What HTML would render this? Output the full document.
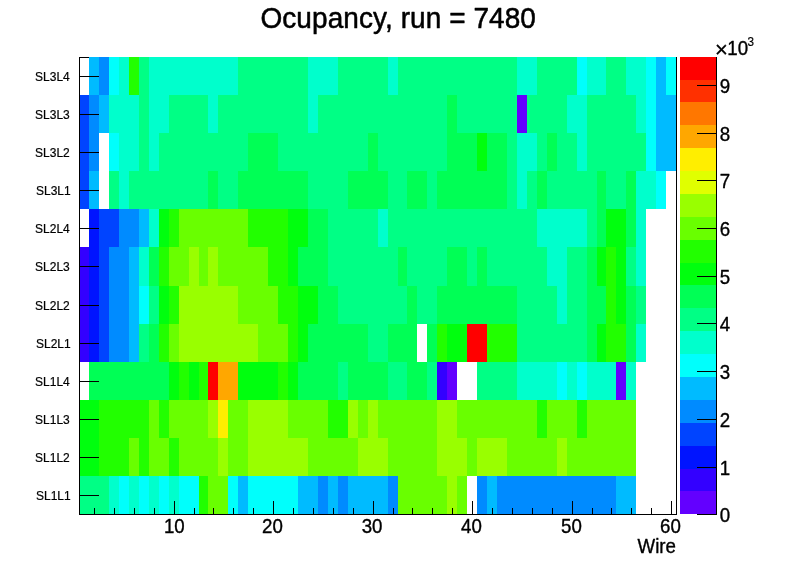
<!DOCTYPE html>
<html><head><meta charset="utf-8"><title>Ocupancy, run = 7480</title>
<style>html,body{margin:0;padding:0;background:#fff;overflow:hidden}</style></head>
<body>
<svg width="796" height="572" viewBox="0 0 796 572" style="display:block">
<rect x="0" y="0" width="796" height="572" fill="#fff"/>
<g shape-rendering="crispEdges">
<rect x="79.5" y="57.5" width="597" height="457" fill="none" stroke="#000" stroke-width="1"/>
<rect x="89" y="57" width="10" height="38" fill="#00bbff"/>
<rect x="99" y="57" width="10" height="38" fill="#008bff"/>
<rect x="109" y="57" width="10" height="38" fill="#00fffc"/>
<rect x="119" y="57" width="10" height="38" fill="#00ffcc"/>
<rect x="129" y="57" width="10" height="38" fill="#22ff00"/>
<rect x="139" y="57" width="10" height="38" fill="#00ff85"/>
<rect x="149" y="57" width="89" height="38" fill="#00ffcc"/>
<rect x="238" y="57" width="70" height="38" fill="#00ff85"/>
<rect x="308" y="57" width="30" height="38" fill="#00ffcc"/>
<rect x="338" y="57" width="50" height="38" fill="#00ff85"/>
<rect x="388" y="57" width="10" height="38" fill="#00ffcc"/>
<rect x="398" y="57" width="119" height="38" fill="#00ff85"/>
<rect x="517" y="57" width="20" height="38" fill="#00ffcc"/>
<rect x="537" y="57" width="40" height="38" fill="#00ff85"/>
<rect x="577" y="57" width="10" height="38" fill="#00fffc"/>
<rect x="587" y="57" width="19" height="38" fill="#00ffcc"/>
<rect x="606" y="57" width="20" height="38" fill="#00ff85"/>
<rect x="626" y="57" width="20" height="38" fill="#00ffcc"/>
<rect x="646" y="57" width="10" height="38" fill="#00fffc"/>
<rect x="656" y="57" width="10" height="38" fill="#00bbff"/>
<rect x="666" y="57" width="10" height="38" fill="#00fffc"/>
<rect x="79" y="95" width="10" height="38" fill="#0044ff"/>
<rect x="89" y="95" width="10" height="38" fill="#008bff"/>
<rect x="99" y="95" width="10" height="38" fill="#00bbff"/>
<rect x="109" y="95" width="30" height="38" fill="#00ffcc"/>
<rect x="139" y="95" width="10" height="38" fill="#00ff85"/>
<rect x="149" y="95" width="20" height="38" fill="#00ffcc"/>
<rect x="169" y="95" width="39" height="38" fill="#00ff85"/>
<rect x="208" y="95" width="10" height="38" fill="#00ffcc"/>
<rect x="218" y="95" width="90" height="38" fill="#00ff85"/>
<rect x="308" y="95" width="10" height="38" fill="#00ffcc"/>
<rect x="318" y="95" width="129" height="38" fill="#00ff85"/>
<rect x="447" y="95" width="10" height="38" fill="#00ff55"/>
<rect x="457" y="95" width="60" height="38" fill="#00ff85"/>
<rect x="517" y="95" width="10" height="38" fill="#6300ff"/>
<rect x="527" y="95" width="40" height="38" fill="#00ff85"/>
<rect x="567" y="95" width="20" height="38" fill="#00ffcc"/>
<rect x="587" y="95" width="49" height="38" fill="#00ff85"/>
<rect x="636" y="95" width="10" height="38" fill="#00ffcc"/>
<rect x="646" y="95" width="10" height="38" fill="#00fffc"/>
<rect x="656" y="95" width="20" height="38" fill="#00bbff"/>
<rect x="79" y="133" width="10" height="38" fill="#0044ff"/>
<rect x="89" y="133" width="10" height="38" fill="#008bff"/>
<rect x="109" y="133" width="10" height="38" fill="#00fffc"/>
<rect x="119" y="133" width="20" height="38" fill="#00ffcc"/>
<rect x="139" y="133" width="10" height="38" fill="#00ff85"/>
<rect x="149" y="133" width="10" height="38" fill="#00ffcc"/>
<rect x="159" y="133" width="89" height="38" fill="#00ff85"/>
<rect x="248" y="133" width="30" height="38" fill="#00ff55"/>
<rect x="278" y="133" width="90" height="38" fill="#00ff85"/>
<rect x="368" y="133" width="10" height="38" fill="#00ff55"/>
<rect x="378" y="133" width="69" height="38" fill="#00ff85"/>
<rect x="447" y="133" width="30" height="38" fill="#00ff55"/>
<rect x="477" y="133" width="10" height="38" fill="#00ff0e"/>
<rect x="487" y="133" width="20" height="38" fill="#00ff55"/>
<rect x="507" y="133" width="10" height="38" fill="#00ff85"/>
<rect x="517" y="133" width="20" height="38" fill="#00ffcc"/>
<rect x="537" y="133" width="10" height="38" fill="#00ff85"/>
<rect x="547" y="133" width="10" height="38" fill="#00ff55"/>
<rect x="557" y="133" width="20" height="38" fill="#00ff85"/>
<rect x="577" y="133" width="10" height="38" fill="#00ffcc"/>
<rect x="587" y="133" width="59" height="38" fill="#00ff85"/>
<rect x="646" y="133" width="10" height="38" fill="#00fffc"/>
<rect x="656" y="133" width="20" height="38" fill="#00bbff"/>
<rect x="79" y="171" width="10" height="38" fill="#0044ff"/>
<rect x="89" y="171" width="10" height="38" fill="#00bbff"/>
<rect x="109" y="171" width="10" height="38" fill="#00ff85"/>
<rect x="119" y="171" width="10" height="38" fill="#00ffcc"/>
<rect x="129" y="171" width="79" height="38" fill="#00ff85"/>
<rect x="208" y="171" width="10" height="38" fill="#00ff55"/>
<rect x="218" y="171" width="20" height="38" fill="#00ff85"/>
<rect x="238" y="171" width="70" height="38" fill="#00ff55"/>
<rect x="308" y="171" width="40" height="38" fill="#00ff85"/>
<rect x="348" y="171" width="40" height="38" fill="#00ff55"/>
<rect x="388" y="171" width="19" height="38" fill="#00ff85"/>
<rect x="407" y="171" width="20" height="38" fill="#00ff55"/>
<rect x="427" y="171" width="10" height="38" fill="#00ff85"/>
<rect x="437" y="171" width="70" height="38" fill="#00ff55"/>
<rect x="507" y="171" width="10" height="38" fill="#00ff85"/>
<rect x="517" y="171" width="10" height="38" fill="#00ffcc"/>
<rect x="527" y="171" width="10" height="38" fill="#00ff85"/>
<rect x="537" y="171" width="10" height="38" fill="#00ff55"/>
<rect x="547" y="171" width="50" height="38" fill="#00ff85"/>
<rect x="597" y="171" width="9" height="38" fill="#00ff55"/>
<rect x="606" y="171" width="20" height="38" fill="#00ff85"/>
<rect x="626" y="171" width="10" height="38" fill="#00ff55"/>
<rect x="636" y="171" width="20" height="38" fill="#00ffcc"/>
<rect x="656" y="171" width="10" height="38" fill="#00fffc"/>
<rect x="89" y="209" width="10" height="38" fill="#0014ff"/>
<rect x="99" y="209" width="20" height="38" fill="#0044ff"/>
<rect x="119" y="209" width="20" height="38" fill="#008bff"/>
<rect x="139" y="209" width="10" height="38" fill="#00bbff"/>
<rect x="149" y="209" width="10" height="38" fill="#00ffcc"/>
<rect x="159" y="209" width="10" height="38" fill="#00ff0e"/>
<rect x="169" y="209" width="10" height="38" fill="#22ff00"/>
<rect x="179" y="209" width="69" height="38" fill="#69ff00"/>
<rect x="248" y="209" width="40" height="38" fill="#22ff00"/>
<rect x="288" y="209" width="20" height="38" fill="#00ff0e"/>
<rect x="308" y="209" width="20" height="38" fill="#00ff55"/>
<rect x="328" y="209" width="50" height="38" fill="#00ff85"/>
<rect x="378" y="209" width="10" height="38" fill="#00ffcc"/>
<rect x="388" y="209" width="149" height="38" fill="#00ff85"/>
<rect x="537" y="209" width="50" height="38" fill="#00ffcc"/>
<rect x="587" y="209" width="10" height="38" fill="#00ff85"/>
<rect x="597" y="209" width="9" height="38" fill="#00ff55"/>
<rect x="606" y="209" width="20" height="38" fill="#00ff0e"/>
<rect x="626" y="209" width="10" height="38" fill="#00ff55"/>
<rect x="636" y="209" width="10" height="38" fill="#00ffcc"/>
<rect x="79" y="247" width="10" height="39" fill="#3300ff"/>
<rect x="89" y="247" width="10" height="39" fill="#0014ff"/>
<rect x="99" y="247" width="10" height="39" fill="#0044ff"/>
<rect x="109" y="247" width="20" height="39" fill="#008bff"/>
<rect x="129" y="247" width="10" height="39" fill="#00bbff"/>
<rect x="139" y="247" width="10" height="39" fill="#00ffcc"/>
<rect x="149" y="247" width="10" height="39" fill="#00ff55"/>
<rect x="159" y="247" width="10" height="39" fill="#22ff00"/>
<rect x="169" y="247" width="20" height="39" fill="#69ff00"/>
<rect x="189" y="247" width="10" height="39" fill="#99ff00"/>
<rect x="199" y="247" width="9" height="39" fill="#69ff00"/>
<rect x="208" y="247" width="10" height="39" fill="#99ff00"/>
<rect x="218" y="247" width="50" height="39" fill="#69ff00"/>
<rect x="268" y="247" width="20" height="39" fill="#22ff00"/>
<rect x="288" y="247" width="10" height="39" fill="#00ff0e"/>
<rect x="298" y="247" width="30" height="39" fill="#00ff55"/>
<rect x="328" y="247" width="70" height="39" fill="#00ff85"/>
<rect x="398" y="247" width="9" height="39" fill="#00ff55"/>
<rect x="407" y="247" width="40" height="39" fill="#00ff85"/>
<rect x="447" y="247" width="20" height="39" fill="#00ff55"/>
<rect x="467" y="247" width="10" height="39" fill="#00ff85"/>
<rect x="477" y="247" width="10" height="39" fill="#00ff55"/>
<rect x="487" y="247" width="60" height="39" fill="#00ff85"/>
<rect x="547" y="247" width="20" height="39" fill="#00ffcc"/>
<rect x="567" y="247" width="20" height="39" fill="#00ff85"/>
<rect x="587" y="247" width="10" height="39" fill="#00ff55"/>
<rect x="597" y="247" width="9" height="39" fill="#00ff0e"/>
<rect x="606" y="247" width="10" height="39" fill="#22ff00"/>
<rect x="616" y="247" width="10" height="39" fill="#00ff0e"/>
<rect x="626" y="247" width="10" height="39" fill="#00ff85"/>
<rect x="636" y="247" width="10" height="39" fill="#00ffcc"/>
<rect x="79" y="286" width="10" height="38" fill="#3300ff"/>
<rect x="89" y="286" width="10" height="38" fill="#0014ff"/>
<rect x="99" y="286" width="10" height="38" fill="#0044ff"/>
<rect x="109" y="286" width="20" height="38" fill="#008bff"/>
<rect x="129" y="286" width="10" height="38" fill="#00bbff"/>
<rect x="139" y="286" width="10" height="38" fill="#00fffc"/>
<rect x="149" y="286" width="10" height="38" fill="#00ff85"/>
<rect x="159" y="286" width="10" height="38" fill="#00ff0e"/>
<rect x="169" y="286" width="10" height="38" fill="#22ff00"/>
<rect x="179" y="286" width="59" height="38" fill="#99ff00"/>
<rect x="238" y="286" width="40" height="38" fill="#69ff00"/>
<rect x="278" y="286" width="20" height="38" fill="#22ff00"/>
<rect x="298" y="286" width="20" height="38" fill="#00ff0e"/>
<rect x="318" y="286" width="20" height="38" fill="#00ff55"/>
<rect x="338" y="286" width="69" height="38" fill="#00ff85"/>
<rect x="407" y="286" width="10" height="38" fill="#00ff55"/>
<rect x="417" y="286" width="20" height="38" fill="#00ff85"/>
<rect x="437" y="286" width="80" height="38" fill="#00ff55"/>
<rect x="517" y="286" width="40" height="38" fill="#00ff85"/>
<rect x="557" y="286" width="10" height="38" fill="#00ffcc"/>
<rect x="567" y="286" width="20" height="38" fill="#00ff85"/>
<rect x="587" y="286" width="19" height="38" fill="#00ff55"/>
<rect x="606" y="286" width="10" height="38" fill="#22ff00"/>
<rect x="616" y="286" width="10" height="38" fill="#00ff0e"/>
<rect x="626" y="286" width="10" height="38" fill="#00ff55"/>
<rect x="636" y="286" width="10" height="38" fill="#00ff85"/>
<rect x="79" y="324" width="10" height="38" fill="#3300ff"/>
<rect x="89" y="324" width="10" height="38" fill="#0014ff"/>
<rect x="99" y="324" width="10" height="38" fill="#0044ff"/>
<rect x="109" y="324" width="20" height="38" fill="#008bff"/>
<rect x="129" y="324" width="10" height="38" fill="#00bbff"/>
<rect x="139" y="324" width="10" height="38" fill="#00ff85"/>
<rect x="149" y="324" width="10" height="38" fill="#00ff55"/>
<rect x="159" y="324" width="10" height="38" fill="#22ff00"/>
<rect x="169" y="324" width="10" height="38" fill="#69ff00"/>
<rect x="179" y="324" width="79" height="38" fill="#99ff00"/>
<rect x="258" y="324" width="30" height="38" fill="#69ff00"/>
<rect x="288" y="324" width="10" height="38" fill="#22ff00"/>
<rect x="298" y="324" width="10" height="38" fill="#00ff0e"/>
<rect x="308" y="324" width="60" height="38" fill="#00ff55"/>
<rect x="368" y="324" width="20" height="38" fill="#00ff85"/>
<rect x="388" y="324" width="29" height="38" fill="#00ff55"/>
<rect x="427" y="324" width="10" height="38" fill="#00ff55"/>
<rect x="437" y="324" width="10" height="38" fill="#22ff00"/>
<rect x="447" y="324" width="20" height="38" fill="#00ff0e"/>
<rect x="467" y="324" width="20" height="38" fill="#ff0000"/>
<rect x="487" y="324" width="30" height="38" fill="#22ff00"/>
<rect x="517" y="324" width="70" height="38" fill="#00ff85"/>
<rect x="587" y="324" width="10" height="38" fill="#00ff55"/>
<rect x="597" y="324" width="9" height="38" fill="#00ff0e"/>
<rect x="606" y="324" width="20" height="38" fill="#22ff00"/>
<rect x="626" y="324" width="10" height="38" fill="#00ff55"/>
<rect x="636" y="324" width="10" height="38" fill="#00ffcc"/>
<rect x="89" y="362" width="80" height="38" fill="#00ff55"/>
<rect x="169" y="362" width="10" height="38" fill="#00ff0e"/>
<rect x="179" y="362" width="10" height="38" fill="#22ff00"/>
<rect x="189" y="362" width="10" height="38" fill="#00ff0e"/>
<rect x="199" y="362" width="9" height="38" fill="#22ff00"/>
<rect x="208" y="362" width="10" height="38" fill="#ff0000"/>
<rect x="218" y="362" width="20" height="38" fill="#ffa700"/>
<rect x="238" y="362" width="40" height="38" fill="#00ff0e"/>
<rect x="278" y="362" width="10" height="38" fill="#22ff00"/>
<rect x="288" y="362" width="10" height="38" fill="#00ff0e"/>
<rect x="298" y="362" width="40" height="38" fill="#00ff55"/>
<rect x="338" y="362" width="10" height="38" fill="#00ff85"/>
<rect x="348" y="362" width="40" height="38" fill="#00ff55"/>
<rect x="388" y="362" width="19" height="38" fill="#00ff85"/>
<rect x="407" y="362" width="20" height="38" fill="#00ff55"/>
<rect x="427" y="362" width="10" height="38" fill="#00ff85"/>
<rect x="437" y="362" width="10" height="38" fill="#3300ff"/>
<rect x="447" y="362" width="10" height="38" fill="#6300ff"/>
<rect x="477" y="362" width="40" height="38" fill="#00ff85"/>
<rect x="517" y="362" width="40" height="38" fill="#00ffcc"/>
<rect x="557" y="362" width="10" height="38" fill="#00fffc"/>
<rect x="567" y="362" width="10" height="38" fill="#00ffcc"/>
<rect x="577" y="362" width="10" height="38" fill="#00fffc"/>
<rect x="587" y="362" width="29" height="38" fill="#00ffcc"/>
<rect x="616" y="362" width="10" height="38" fill="#6300ff"/>
<rect x="626" y="362" width="10" height="38" fill="#00ffcc"/>
<rect x="79" y="400" width="20" height="38" fill="#00ff0e"/>
<rect x="99" y="400" width="50" height="38" fill="#22ff00"/>
<rect x="149" y="400" width="10" height="38" fill="#69ff00"/>
<rect x="159" y="400" width="10" height="38" fill="#22ff00"/>
<rect x="169" y="400" width="39" height="38" fill="#69ff00"/>
<rect x="208" y="400" width="10" height="38" fill="#99ff00"/>
<rect x="218" y="400" width="10" height="38" fill="#ffee00"/>
<rect x="228" y="400" width="20" height="38" fill="#69ff00"/>
<rect x="248" y="400" width="40" height="38" fill="#99ff00"/>
<rect x="288" y="400" width="40" height="38" fill="#69ff00"/>
<rect x="328" y="400" width="20" height="38" fill="#22ff00"/>
<rect x="348" y="400" width="10" height="38" fill="#99ff00"/>
<rect x="358" y="400" width="10" height="38" fill="#69ff00"/>
<rect x="368" y="400" width="10" height="38" fill="#99ff00"/>
<rect x="378" y="400" width="59" height="38" fill="#69ff00"/>
<rect x="437" y="400" width="20" height="38" fill="#99ff00"/>
<rect x="457" y="400" width="80" height="38" fill="#69ff00"/>
<rect x="537" y="400" width="10" height="38" fill="#22ff00"/>
<rect x="547" y="400" width="30" height="38" fill="#69ff00"/>
<rect x="577" y="400" width="10" height="38" fill="#22ff00"/>
<rect x="587" y="400" width="49" height="38" fill="#69ff00"/>
<rect x="79" y="438" width="20" height="38" fill="#00ff0e"/>
<rect x="99" y="438" width="30" height="38" fill="#22ff00"/>
<rect x="129" y="438" width="10" height="38" fill="#69ff00"/>
<rect x="139" y="438" width="10" height="38" fill="#22ff00"/>
<rect x="149" y="438" width="20" height="38" fill="#69ff00"/>
<rect x="169" y="438" width="10" height="38" fill="#22ff00"/>
<rect x="179" y="438" width="39" height="38" fill="#69ff00"/>
<rect x="218" y="438" width="10" height="38" fill="#99ff00"/>
<rect x="228" y="438" width="20" height="38" fill="#69ff00"/>
<rect x="248" y="438" width="60" height="38" fill="#99ff00"/>
<rect x="308" y="438" width="50" height="38" fill="#69ff00"/>
<rect x="358" y="438" width="30" height="38" fill="#99ff00"/>
<rect x="388" y="438" width="49" height="38" fill="#69ff00"/>
<rect x="437" y="438" width="30" height="38" fill="#99ff00"/>
<rect x="467" y="438" width="10" height="38" fill="#69ff00"/>
<rect x="477" y="438" width="30" height="38" fill="#99ff00"/>
<rect x="507" y="438" width="50" height="38" fill="#69ff00"/>
<rect x="557" y="438" width="10" height="38" fill="#99ff00"/>
<rect x="567" y="438" width="69" height="38" fill="#69ff00"/>
<rect x="79" y="476" width="30" height="38" fill="#00ff85"/>
<rect x="109" y="476" width="10" height="38" fill="#00ffcc"/>
<rect x="119" y="476" width="10" height="38" fill="#00fffc"/>
<rect x="129" y="476" width="10" height="38" fill="#00ffcc"/>
<rect x="139" y="476" width="10" height="38" fill="#00fffc"/>
<rect x="149" y="476" width="10" height="38" fill="#00ffcc"/>
<rect x="159" y="476" width="10" height="38" fill="#00fffc"/>
<rect x="169" y="476" width="10" height="38" fill="#00ffcc"/>
<rect x="179" y="476" width="20" height="38" fill="#00fffc"/>
<rect x="199" y="476" width="9" height="38" fill="#22ff00"/>
<rect x="208" y="476" width="20" height="38" fill="#69ff00"/>
<rect x="228" y="476" width="10" height="38" fill="#00fffc"/>
<rect x="238" y="476" width="10" height="38" fill="#00bbff"/>
<rect x="248" y="476" width="50" height="38" fill="#00fffc"/>
<rect x="298" y="476" width="20" height="38" fill="#00bbff"/>
<rect x="318" y="476" width="10" height="38" fill="#008bff"/>
<rect x="328" y="476" width="10" height="38" fill="#00bbff"/>
<rect x="338" y="476" width="10" height="38" fill="#008bff"/>
<rect x="348" y="476" width="40" height="38" fill="#00bbff"/>
<rect x="388" y="476" width="10" height="38" fill="#008bff"/>
<rect x="398" y="476" width="49" height="38" fill="#69ff00"/>
<rect x="447" y="476" width="10" height="38" fill="#99ff00"/>
<rect x="457" y="476" width="10" height="38" fill="#69ff00"/>
<rect x="477" y="476" width="10" height="38" fill="#008bff"/>
<rect x="487" y="476" width="10" height="38" fill="#00bbff"/>
<rect x="497" y="476" width="119" height="38" fill="#008bff"/>
<rect x="616" y="476" width="20" height="38" fill="#00bbff"/>
<rect x="680" y="491" width="37" height="23" fill="#6300ff"/>
<rect x="680" y="469" width="37" height="22" fill="#3300ff"/>
<rect x="680" y="446" width="37" height="23" fill="#0014ff"/>
<rect x="680" y="423" width="37" height="23" fill="#0044ff"/>
<rect x="680" y="400" width="37" height="23" fill="#008bff"/>
<rect x="680" y="377" width="37" height="23" fill="#00bbff"/>
<rect x="680" y="354" width="37" height="23" fill="#00fffc"/>
<rect x="680" y="331" width="37" height="23" fill="#00ffcc"/>
<rect x="680" y="308" width="37" height="23" fill="#00ff85"/>
<rect x="680" y="285" width="37" height="23" fill="#00ff55"/>
<rect x="680" y="263" width="37" height="22" fill="#00ff0e"/>
<rect x="680" y="240" width="37" height="23" fill="#22ff00"/>
<rect x="680" y="217" width="37" height="23" fill="#69ff00"/>
<rect x="680" y="194" width="37" height="23" fill="#99ff00"/>
<rect x="680" y="171" width="37" height="23" fill="#e0ff00"/>
<rect x="680" y="148" width="37" height="23" fill="#ffee00"/>
<rect x="680" y="125" width="37" height="23" fill="#ffa700"/>
<rect x="680" y="102" width="37" height="23" fill="#ff7700"/>
<rect x="680" y="80" width="37" height="22" fill="#ff3000"/>
<rect x="680" y="57" width="37" height="23" fill="#ff0000"/>
<line x1="79.5" y1="57" x2="79.5" y2="515" stroke="#000" stroke-width="1"/>
<line x1="79" y1="514.5" x2="677" y2="514.5" stroke="#000" stroke-width="1"/>
<line x1="94.5" y1="515" x2="94.5" y2="508" stroke="#000" stroke-width="1"/>
<line x1="114.5" y1="515" x2="114.5" y2="508" stroke="#000" stroke-width="1"/>
<line x1="134.5" y1="515" x2="134.5" y2="508" stroke="#000" stroke-width="1"/>
<line x1="154.5" y1="515" x2="154.5" y2="508" stroke="#000" stroke-width="1"/>
<line x1="174.5" y1="515" x2="174.5" y2="501" stroke="#000" stroke-width="1"/>
<line x1="194.5" y1="515" x2="194.5" y2="508" stroke="#000" stroke-width="1"/>
<line x1="213.5" y1="515" x2="213.5" y2="508" stroke="#000" stroke-width="1"/>
<line x1="233.5" y1="515" x2="233.5" y2="508" stroke="#000" stroke-width="1"/>
<line x1="253.5" y1="515" x2="253.5" y2="508" stroke="#000" stroke-width="1"/>
<line x1="273.5" y1="515" x2="273.5" y2="501" stroke="#000" stroke-width="1"/>
<line x1="293.5" y1="515" x2="293.5" y2="508" stroke="#000" stroke-width="1"/>
<line x1="313.5" y1="515" x2="313.5" y2="508" stroke="#000" stroke-width="1"/>
<line x1="333.5" y1="515" x2="333.5" y2="508" stroke="#000" stroke-width="1"/>
<line x1="353.5" y1="515" x2="353.5" y2="508" stroke="#000" stroke-width="1"/>
<line x1="373.5" y1="515" x2="373.5" y2="501" stroke="#000" stroke-width="1"/>
<line x1="393.5" y1="515" x2="393.5" y2="508" stroke="#000" stroke-width="1"/>
<line x1="412.5" y1="515" x2="412.5" y2="508" stroke="#000" stroke-width="1"/>
<line x1="432.5" y1="515" x2="432.5" y2="508" stroke="#000" stroke-width="1"/>
<line x1="452.5" y1="515" x2="452.5" y2="508" stroke="#000" stroke-width="1"/>
<line x1="472.5" y1="515" x2="472.5" y2="501" stroke="#000" stroke-width="1"/>
<line x1="492.5" y1="515" x2="492.5" y2="508" stroke="#000" stroke-width="1"/>
<line x1="512.5" y1="515" x2="512.5" y2="508" stroke="#000" stroke-width="1"/>
<line x1="532.5" y1="515" x2="532.5" y2="508" stroke="#000" stroke-width="1"/>
<line x1="552.5" y1="515" x2="552.5" y2="508" stroke="#000" stroke-width="1"/>
<line x1="572.5" y1="515" x2="572.5" y2="501" stroke="#000" stroke-width="1"/>
<line x1="592.5" y1="515" x2="592.5" y2="508" stroke="#000" stroke-width="1"/>
<line x1="611.5" y1="515" x2="611.5" y2="508" stroke="#000" stroke-width="1"/>
<line x1="631.5" y1="515" x2="631.5" y2="508" stroke="#000" stroke-width="1"/>
<line x1="651.5" y1="515" x2="651.5" y2="508" stroke="#000" stroke-width="1"/>
<line x1="671.5" y1="515" x2="671.5" y2="501" stroke="#000" stroke-width="1"/>
<line x1="79" y1="76.5" x2="99" y2="76.5" stroke="#000" stroke-width="1"/>
<line x1="79" y1="114.5" x2="99" y2="114.5" stroke="#000" stroke-width="1"/>
<line x1="79" y1="152.5" x2="99" y2="152.5" stroke="#000" stroke-width="1"/>
<line x1="79" y1="190.5" x2="99" y2="190.5" stroke="#000" stroke-width="1"/>
<line x1="79" y1="228.5" x2="99" y2="228.5" stroke="#000" stroke-width="1"/>
<line x1="79" y1="266.5" x2="99" y2="266.5" stroke="#000" stroke-width="1"/>
<line x1="79" y1="305.5" x2="99" y2="305.5" stroke="#000" stroke-width="1"/>
<line x1="79" y1="343.5" x2="99" y2="343.5" stroke="#000" stroke-width="1"/>
<line x1="79" y1="381.5" x2="99" y2="381.5" stroke="#000" stroke-width="1"/>
<line x1="79" y1="419.5" x2="99" y2="419.5" stroke="#000" stroke-width="1"/>
<line x1="79" y1="457.5" x2="99" y2="457.5" stroke="#000" stroke-width="1"/>
<line x1="79" y1="495.5" x2="99" y2="495.5" stroke="#000" stroke-width="1"/>
<line x1="717" y1="514.5" x2="697" y2="514.5" stroke="#000" stroke-width="1"/>
<line x1="717" y1="467.5" x2="697" y2="467.5" stroke="#000" stroke-width="1"/>
<line x1="717" y1="419.5" x2="697" y2="419.5" stroke="#000" stroke-width="1"/>
<line x1="717" y1="371.5" x2="697" y2="371.5" stroke="#000" stroke-width="1"/>
<line x1="717" y1="323.5" x2="697" y2="323.5" stroke="#000" stroke-width="1"/>
<line x1="717" y1="276.5" x2="697" y2="276.5" stroke="#000" stroke-width="1"/>
<line x1="717" y1="228.5" x2="697" y2="228.5" stroke="#000" stroke-width="1"/>
<line x1="717" y1="180.5" x2="697" y2="180.5" stroke="#000" stroke-width="1"/>
<line x1="717" y1="133.5" x2="697" y2="133.5" stroke="#000" stroke-width="1"/>
<line x1="717" y1="85.5" x2="697" y2="85.5" stroke="#000" stroke-width="1"/>
<line x1="716.5" y1="57" x2="716.5" y2="515" stroke="#000" stroke-width="1"/>
</g>
<g font-family="Liberation Sans, Arial, Helvetica, sans-serif" fill="#000" stroke="#000" stroke-linejoin="round">
<text transform="translate(398.2,28.1) scale(1,1.05)" font-size="28" text-anchor="middle" textLength="275.5" lengthAdjust="spacing" stroke-width="0.5">Ocupancy, run = 7480</text>
<text transform="translate(69.8,81.1) scale(1,1.04)" font-size="12" text-anchor="end" stroke-width="0.2">SL3L4</text>
<text transform="translate(69.8,119.1) scale(1,1.04)" font-size="12" text-anchor="end" stroke-width="0.2">SL3L3</text>
<text transform="translate(69.8,157.1) scale(1,1.04)" font-size="12" text-anchor="end" stroke-width="0.2">SL3L2</text>
<text transform="translate(70.7,195.1) scale(1,1.04)" font-size="12" text-anchor="end" stroke-width="0.2">SL3L1</text>
<text transform="translate(69.8,233.1) scale(1,1.04)" font-size="12" text-anchor="end" stroke-width="0.2">SL2L4</text>
<text transform="translate(69.8,271.1) scale(1,1.04)" font-size="12" text-anchor="end" stroke-width="0.2">SL2L3</text>
<text transform="translate(69.8,310.1) scale(1,1.04)" font-size="12" text-anchor="end" stroke-width="0.2">SL2L2</text>
<text transform="translate(70.7,348.1) scale(1,1.04)" font-size="12" text-anchor="end" stroke-width="0.2">SL2L1</text>
<text transform="translate(69.8,386.1) scale(1,1.04)" font-size="12" text-anchor="end" stroke-width="0.2">SL1L4</text>
<text transform="translate(69.8,424.1) scale(1,1.04)" font-size="12" text-anchor="end" stroke-width="0.2">SL1L3</text>
<text transform="translate(69.8,462.1) scale(1,1.04)" font-size="12" text-anchor="end" stroke-width="0.2">SL1L2</text>
<text transform="translate(70.7,500.1) scale(1,1.04)" font-size="12" text-anchor="end" stroke-width="0.2">SL1L1</text>
<text transform="translate(174.3,533.2) scale(1,1.035)" font-size="18.7" text-anchor="middle" stroke-width="0.35">10</text>
<text transform="translate(272.4,533.2) scale(1,1.035)" font-size="18.7" text-anchor="middle" stroke-width="0.35">20</text>
<text transform="translate(372.1,533.2) scale(1,1.035)" font-size="18.7" text-anchor="middle" stroke-width="0.35">30</text>
<text transform="translate(471.4,533.2) scale(1,1.035)" font-size="18.7" text-anchor="middle" stroke-width="0.35">40</text>
<text transform="translate(571.4,533.2) scale(1,1.035)" font-size="18.7" text-anchor="middle" stroke-width="0.35">50</text>
<text transform="translate(670.4,533.2) scale(1,1.035)" font-size="18.7" text-anchor="middle" stroke-width="0.35">60</text>
<text transform="translate(676.0,552.8) scale(1,1.035)" font-size="18.7" text-anchor="end" stroke-width="0.35">Wire</text>
<text transform="translate(719.7,521.5) scale(1,1.035)" font-size="18.7" stroke-width="0.35">0</text>
<text transform="translate(719.7,474.5) scale(1,1.035)" font-size="18.7" stroke-width="0.35">1</text>
<text transform="translate(719.7,426.5) scale(1,1.035)" font-size="18.7" stroke-width="0.35">2</text>
<text transform="translate(719.7,378.5) scale(1,1.035)" font-size="18.7" stroke-width="0.35">3</text>
<text transform="translate(719.7,330.5) scale(1,1.035)" font-size="18.7" stroke-width="0.35">4</text>
<text transform="translate(719.7,283.5) scale(1,1.035)" font-size="18.7" stroke-width="0.35">5</text>
<text transform="translate(719.7,235.5) scale(1,1.035)" font-size="18.7" stroke-width="0.35">6</text>
<text transform="translate(719.7,187.5) scale(1,1.035)" font-size="18.7" stroke-width="0.35">7</text>
<text transform="translate(719.7,140.5) scale(1,1.035)" font-size="18.7" stroke-width="0.35">8</text>
<text transform="translate(719.7,92.5) scale(1,1.035)" font-size="18.7" stroke-width="0.35">9</text>
<text transform="translate(714.9,56.5) scale(1,1.0)" font-size="22" stroke-width="0.3">×</text>
<text transform="translate(727.3,55.0) scale(1,1.035)" font-size="18.7" stroke-width="0.35">10</text>
<text transform="translate(747.6,45.6) scale(1,1.035)" font-size="11.7" stroke-width="0.2">3</text>
</g>
</svg>
</body></html>
